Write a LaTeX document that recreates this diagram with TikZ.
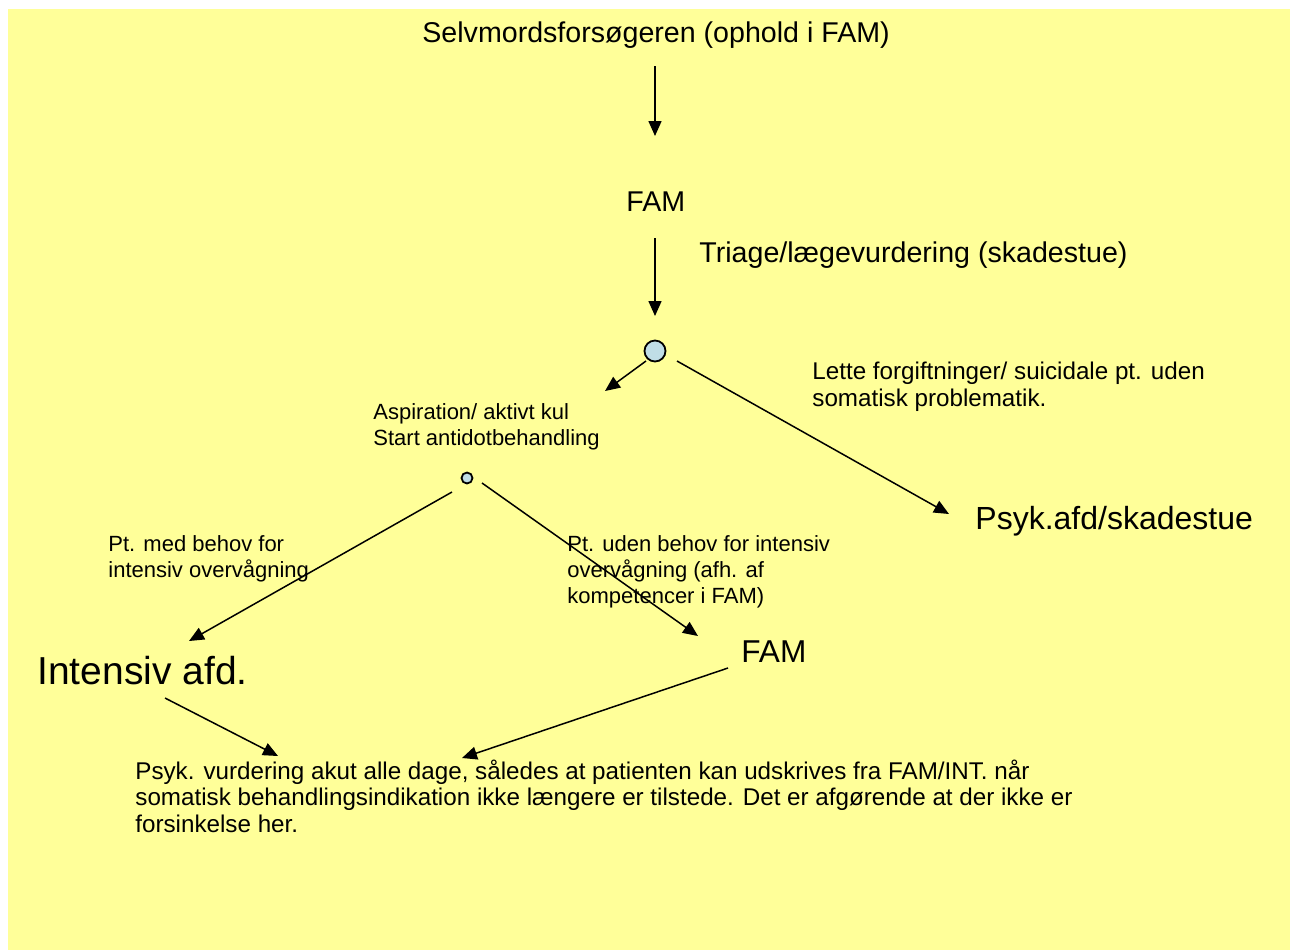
\documentclass[tikz,border=0pt]{standalone}
\usepackage{fontspec}
\setmainfont{Liberation Sans}
\usetikzlibrary{arrows.meta}
\definecolor{bgyellow}{HTML}{FFFF99}
\definecolor{dotblue}{HTML}{C0DEE6}
\tikzset{
  txt/.style={inner sep=0pt, anchor=base west, align=left},
  small/.style={txt, font=\fontsize{11}{13}\selectfont},
  mid/.style={txt, font=\fontsize{12.1}{13.2}\selectfont},
  med/.style={txt, font=\fontsize{14.3}{17}\selectfont},
  big/.style={txt, font=\fontsize{16}{19}\selectfont},
  arr/.style={line width=0.75pt, -{Triangle[length=7.5pt,width=6.5pt]}},
  dot/.style={circle, draw, line width=0.9pt, fill=dotblue, inner sep=0pt}
}
\begin{document}
\begin{tikzpicture}[x=0.5pt,y=-0.5pt]
\useasboundingbox (0,0) rectangle (1290,950);
\fill[bgyellow] (8,9) rectangle (1290,950);

\node[med] (title) at (422,42) {Selvmordsforsøgeren (ophold i FAM)};
\node[med] (fam1) at (626,211) {FAM};
\node[med] (triage) at (699,262) {Triage/lægevurdering (skadestue)};
\node[dot, minimum size=10.5pt] (c1) at (655,351) {};
\node[mid] (lette) at (812,406) {Lette forgiftninger/ suicidale pt. uden\\somatisk problematik.};
\node[small] (asp) at (373,445) {Aspiration/ aktivt kul\\Start antidotbehandling};
\node[dot, minimum size=5.5pt] (c2) at (467,478) {};
\node[big] (psyk) at (975,529) {Psyk.afd/skadestue};
\node[small] (med) at (108,577) {Pt. med behov for\\intensiv overvågning};
\node[small] (uden) at (567,603) {Pt. uden behov for intensiv\\overvågning (afh. af\\kompetencer i FAM)};
\node[big, font=\fontsize{15.8}{19}\selectfont] (fam2) at (741,662) {FAM};
\node[big, font=\fontsize{19.5}{23}\selectfont] (int) at (37,684) {Intensiv afd.};
\node[mid, font=\fontsize{12.1}{13.25}\selectfont] (vurd) at (135,832) {Psyk. vurdering akut alle dage, således at patienten kan udskrives fra FAM/INT. når\\somatisk behandlingsindikation ikke længere er tilstede. Det er afgørende at der ikke er\\forsinkelse her.};

\coordinate (a1s) at (655,66);
\coordinate (a1e) at (655,136);
\coordinate (a2s) at (655,238);
\coordinate (a2e) at (655,316);
\coordinate (a3s) at (646,361);
\coordinate (a3e) at (605,391);
\coordinate (a4s) at (677,361);
\coordinate (a4e) at (949,514);
\coordinate (a5s) at (452,492);
\coordinate (a5e) at (189,641);
\coordinate (a6s) at (482,483);
\coordinate (a6e) at (698,636);
\coordinate (a7s) at (165,698);
\coordinate (a7e) at (278,756);
\coordinate (a8s) at (728,668);
\coordinate (a8e) at (462,758);

\draw[arr] (a1s) -- (a1e);
\draw[arr] (a2s) -- (a2e);
\draw[arr] (a3s) -- (a3e);
\draw[arr] (a4s) -- (a4e);
\draw[arr] (a5s) -- (a5e);
\draw[arr] (a6s) -- (a6e);
\draw[arr] (a7s) -- (a7e);
\draw[arr] (a8s) -- (a8e);
\end{tikzpicture}
\end{document}
